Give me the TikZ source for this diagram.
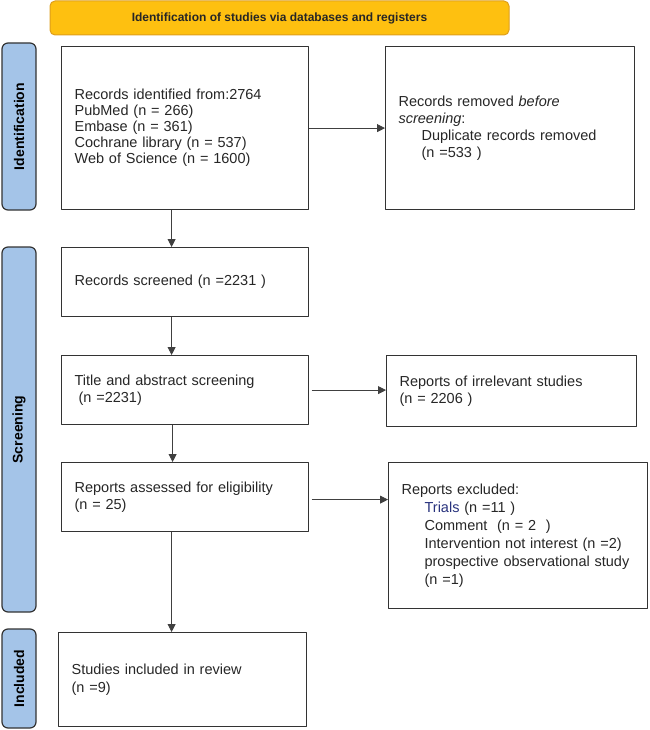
\documentclass[tikz,border=0pt]{standalone}
\usepackage{fontspec}
\setmainfont{Liberation Sans}
\usetikzlibrary{arrows.meta}
\definecolor{bannerfill}{RGB}{254,192,16}
\definecolor{bannerline}{RGB}{222,158,28}
\definecolor{tabfill}{RGB}{164,196,232}
\definecolor{trialblue}{RGB}{40,50,125}
\begin{document}
\begin{tikzpicture}[x=1pt,y=-1pt,line cap=round,line join=round,>={Triangle[length=8pt,width=8pt]},
  box/.style={draw=black!80,line width=1.2pt,anchor=north west,align=left,inner xsep=13pt,inner ysep=0pt,
    font=\fontsize{14.5}{17.5}\selectfont,text=black!85},
  tab/.style={draw=black!80,line width=1.2pt,fill=tabfill,rounded corners=6pt,rotate=90,inner sep=0pt,
    minimum height=34pt,font=\bfseries\fontsize{14}{16}\selectfont},
  arr/.style={->,line width=0.8pt,draw=black!75}]
  \useasboundingbox (0,0) rectangle (649,730);
  \node[draw=bannerline,fill=bannerfill,line width=1pt,rounded corners=5pt,minimum width=459pt,minimum height=34pt,
    font=\bfseries\fontsize{12}{14}\selectfont,text=black!85] (banner) at (279.5,18) {Identification of studies via databases and registers};
  \node[tab,minimum width=167pt] (tabident) at (19,126.5) {Identification};
  \node[tab,minimum width=365pt] (tabscreen) at (19,429.5) {Screening};
  \node[tab,minimum width=99pt] (tabincl) at (19,678.5) {Included};
  \node[box,minimum width=247pt,minimum height=163pt,text width=221pt,font=\fontsize{14.5}{16}\selectfont] (ident) at (61,46)
    {Records identified from:2764\\PubMed (n = 266)\\Embase (n = 361)\\Cochrane library (n = 537)\\Web of Science (n = 1600)};
  \node[box,minimum width=249pt,minimum height=163pt,text width=223pt,font=\fontsize{14.5}{17}\selectfont] (removed) at (385,46)
    {Records removed \textit{before}\\\textit{screening}:\\\hspace*{23pt}Duplicate records removed\\\hspace*{23pt}(n =533 )};
  \node[box,minimum width=247pt,minimum height=69pt,text width=221pt] (screened) at (61,247) {Records screened (n =2231 )};
  \node[box,minimum width=247pt,minimum height=69pt,text width=221pt] (title) at (61,355)
    {Title and abstract screening\\\hspace*{4pt}(n =2231)};
  \node[box,minimum width=250pt,minimum height=71pt,text width=224pt] (irrelevant) at (386,355)
    {Reports of irrelevant studies\\(n = 2206 )};
  \node[box,minimum width=247pt,minimum height=69pt,text width=221pt] (assessed) at (61,462)
    {Reports assessed for eligibility\\(n = 25)};
  \node[box,minimum width=259pt,minimum height=146pt,text width=233pt,font=\fontsize{14.5}{18}\selectfont] (excluded) at (388,462)
    {Reports excluded:\\\hspace*{23pt}\textcolor{trialblue}{Trials} (n =11 )\\\hspace*{23pt}Comment~ (n = 2~ )\\
     \hspace*{23pt}Intervention not interest (n =2)\\\hspace*{23pt}prospective observational study\\\hspace*{23pt}(n =1)};
  \node[box,minimum width=248pt,minimum height=94pt,text width=222pt] (included) at (58,632)
    {Studies included in review\\(n =9)};
  \draw[arr] ([xshift=-13.5pt]ident.south) -- ([xshift=-13.5pt]screened.north);
  \draw[arr] ([xshift=-13.5pt]screened.south) -- ([xshift=-13.5pt]title.north);
  \draw[arr] ([xshift=-12.5pt]title.south) -- ([xshift=-12.5pt]assessed.north);
  \draw[arr] ([xshift=-13.5pt]assessed.south) -- ([xshift=-13.5pt]assessed.south |- included.north);
  \draw[arr] (ident.east) -- (removed.west);
  \draw[arr,shorten <=3pt] (title.east) -- (title.east -| irrelevant.west);
  \draw[arr,shorten <=3pt] ([yshift=-2.5pt]assessed.east) -- ([yshift=-2.5pt]assessed.east -| excluded.west);
\end{tikzpicture}
\end{document}
